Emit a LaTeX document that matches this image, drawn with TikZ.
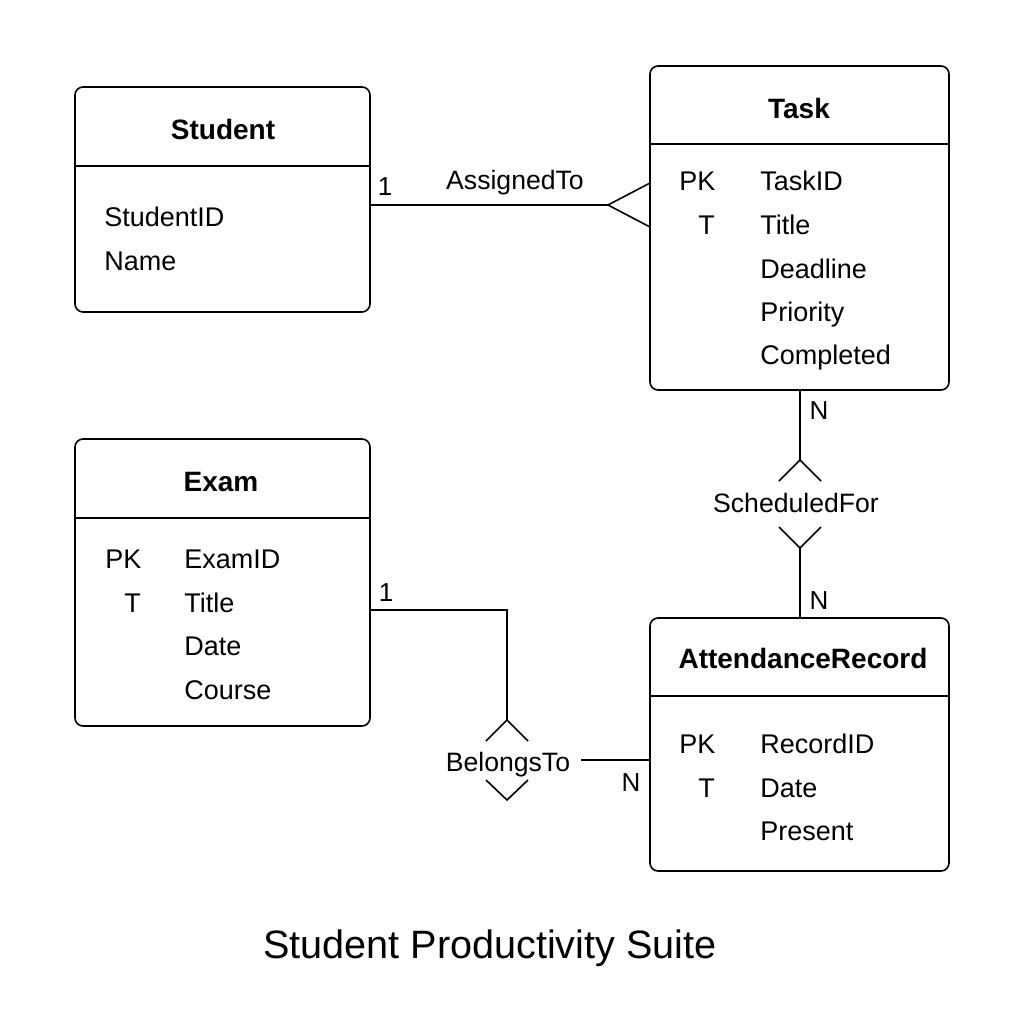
\documentclass[tikz,border=0pt]{standalone}
\usepackage{fontspec}
\setmainfont{Liberation Sans}
\usetikzlibrary{positioning}

\tikzset{
  entity/.style={draw, thick, rounded corners=4pt, inner sep=0pt},
  attr/.style={anchor=west, inner sep=0pt, text height=9.7pt, text depth=0pt, font=\fontsize{13.5}{16}\selectfont},
  head/.style={inner sep=0pt, text height=10.1pt, text depth=0pt, font=\fontsize{14}{17}\selectfont\bfseries},
  rel/.style={inner sep=0pt, text height=9.6pt, text depth=0pt, font=\fontsize{13.3}{16}\selectfont},
  card/.style={inner sep=0pt, text height=9.4pt, text depth=0pt, font=\fontsize{13}{16}\selectfont}
}

\begin{document}
\begin{tikzpicture}[x=0.5pt,y=-0.5pt]
    \useasboundingbox (0,0) rectangle (1024,1024);

    % Entities
    \node[entity, minimum width=147.5pt, minimum height=112.5pt] (student) at (222.5,199.5) {};
    \node[entity, minimum width=149.5pt, minimum height=162pt] (task) at (799.5,228) {};
    \node[entity, minimum width=147.5pt, minimum height=143.5pt] (exam) at (222.5,582.5) {};
    \node[entity, minimum width=149.5pt, minimum height=126.5pt] (record) at (799.5,744.5) {};

    % Header lines
    \draw[thick] (75,166) -- (370,166);
    \draw[thick] (650,144) -- (949,144);
    \draw[thick] (75,518) -- (370,518);
    \draw[thick] (650,696) -- (949,696);

    % Student
    \node[head] (studenthead) at (223,129) {Student};
    \node[attr] (studentid) at (104,217) {StudentID};
    \node[attr] (studentname) at (104,261) {Name};

    % Task
    \node[head] (taskhead) at (799,108) {Task};
    \node[attr] (taskpk) at (679,181) {PK};
    \node[attr] (taskt) at (698,225) {T};
    \node[attr] (taskid) at (760,181) {TaskID};
    \node[attr] (tasktitle) at (760,225) {Title};
    \node[attr] (taskdeadline) at (760,269) {Deadline};
    \node[attr] (taskpriority) at (760,312) {Priority};
    \node[attr] (taskdone) at (760,355) {Completed};

    % Exam
    \node[head] (examhead) at (221,481) {Exam};
    \node[attr] (exampk) at (105,559) {PK};
    \node[attr] (examt) at (124,603) {T};
    \node[attr] (examid) at (184,559) {ExamID};
    \node[attr] (examtitle) at (184,603) {Title};
    \node[attr] (examdate) at (184,646) {Date};
    \node[attr] (examcourse) at (184,690) {Course};

    % AttendanceRecord
    \node[head] (recordhead) at (803,658) {AttendanceRecord};
    \node[attr] (recordpk) at (679,744) {PK};
    \node[attr] (recordt) at (698,788) {T};
    \node[attr] (recordid) at (760,744) {RecordID};
    \node[attr] (recorddate) at (760,788) {Date};
    \node[attr] (recordpresent) at (760,831) {Present};

    % AssignedTo
    \coordinate (crow) at (608,205);
    \draw[thick] (student.east |- crow) -- (crow);
    \draw[thick] (650,183) -- (crow) -- (650,227);
    \node[rel] (assigned) at (515,180) {AssignedTo};
    \node[card] (assignedone) at (385,186) {1};

    % ScheduledFor
    \node[rel] (scheduled) at (796,503) {ScheduledFor};
    \coordinate (schedtop) at (800,460);
    \coordinate (schedbot) at (800,548);
    \draw[thick] (task.south -| schedtop) -- (schedtop);
    \draw[thick] (779,481) -- (schedtop) -- (821,481);
    \draw[thick] (779,527) -- (schedbot) -- (821,527);
    \draw[thick] (schedbot) -- (record.north -| schedbot);
    \node[card] (schedn1) at (819,410) {N};
    \node[card] (schedn2) at (819,600) {N};

    % BelongsTo
    \node[rel] (belongs) at (508,762) {BelongsTo};
    \coordinate (belongsbend) at (507,610);
    \coordinate (belongstop) at (507,720);
    \coordinate (belongsbot) at (507,800);
    \coordinate (belongsend) at (581,760);
    \draw[thick] (exam.east |- belongsbend) -- (belongsbend) -- (belongstop);
    \draw[thick] (486,741) -- (belongstop) -- (528,741);
    \draw[thick] (486,780) -- (belongsbot) -- (528,780);
    \draw[thick] (belongsend) -- (record.west |- belongsend);
    \node[card] (belongsone) at (386,592) {1};
    \node[card] (belongsn) at (631,782) {N};

    % Title
    \node[inner sep=0pt, text height=14.3pt, text depth=0pt, font=\fontsize{19.8}{24}\selectfont] (title) at (490,944) {Student Productivity Suite};

\end{tikzpicture}
\end{document}
